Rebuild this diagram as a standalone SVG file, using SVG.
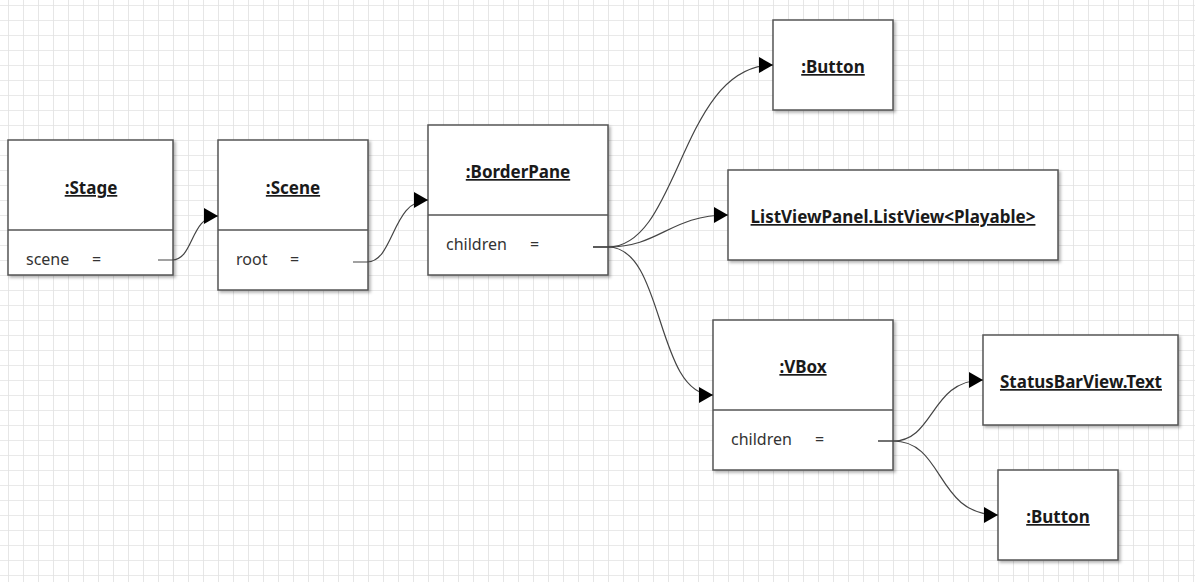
<svg xmlns="http://www.w3.org/2000/svg" width="1195" height="582" viewBox="0 0 1195 582">
<defs>
<pattern id="grid" x="8" y="5" width="15" height="15" patternUnits="userSpaceOnUse">
<path d="M0 0 H15 M0 0 V15" fill="none" stroke="#e2e2e2" stroke-width="1.7"/>
</pattern>
<filter id="sh" x="-10%" y="-10%" width="130%" height="130%">
<feDropShadow dx="2" dy="2" stdDeviation="1.5" flood-color="#000" flood-opacity="0.3"/>
</filter>
<marker id="arr" markerUnits="userSpaceOnUse" markerWidth="15" markerHeight="18" refX="14" refY="9" orient="auto">
<path d="M0 1 L14 9 L0 17 Z" fill="#000"/>
</marker>
</defs>
<style>
.box{fill:#fff;stroke:#555;stroke-width:1.5;filter:url(#sh)}
.div{stroke:#555;stroke-width:1.5}
.t{font-family:"Noto Sans","Open Sans","Liberation Sans",sans-serif;font-size:17px;font-weight:bold;fill:#1a1a1a;text-anchor:middle;text-decoration:underline}
.a{font-family:"Noto Sans","Open Sans","Liberation Sans",sans-serif;font-size:16px;fill:#333}
.c{fill:none;stroke:#444;stroke-width:1.2;marker-end:url(#arr)}
</style>
<rect width="1195" height="582" fill="#fff"/>
<rect width="1195" height="582" fill="url(#grid)"/>
<g id="stage">
<rect class="box" x="8" y="140" width="165" height="135"/>
<line class="div" x1="8" y1="230" x2="173" y2="230"/>
<text class="t" x="91" y="194">:Stage</text>
<text class="a" x="26" y="265">scene</text>
<text class="a" x="92" y="265">=</text>
</g>
<g id="scene">
<rect class="box" x="218" y="140" width="150" height="150"/>
<line class="div" x1="218" y1="230" x2="368" y2="230"/>
<text class="t" x="293" y="194">:Scene</text>
<text class="a" x="236" y="265">root</text>
<text class="a" x="290" y="265">=</text>
</g>
<g id="borderpane">
<rect class="box" x="428" y="125" width="180" height="150"/>
<line class="div" x1="428" y1="215" x2="608" y2="215"/>
<text class="t" x="518" y="178">:BorderPane</text>
<text class="a" x="446" y="250">children</text>
<text class="a" x="530" y="250">=</text>
</g>
<g id="button1">
<rect class="box" x="773" y="20" width="120" height="90"/>
<text class="t" x="833" y="73">:Button</text>
</g>
<g id="listview">
<rect class="box" x="728" y="170" width="330" height="90"/>
<text class="t" x="893" y="223">ListViewPanel.ListView&lt;Playable&gt;</text>
</g>
<g id="vbox">
<rect class="box" x="713" y="320" width="180" height="150"/>
<line class="div" x1="713" y1="410" x2="893" y2="410"/>
<text class="t" x="803" y="373">:VBox</text>
<text class="a" x="731" y="445">children</text>
<text class="a" x="815" y="445">=</text>
</g>
<g id="statusbar">
<rect class="box" x="983" y="335" width="195" height="90"/>
<text class="t" x="1081" y="388">StatusBarView.Text</text>
</g>
<g id="button2">
<rect class="box" x="998" y="470" width="120" height="90"/>
<text class="t" x="1058" y="523">:Button</text>
</g>
<g id="connectors">
<path class="c" d="M158 260 L172 260 C194 260 190 216 218 216"/>
<path class="c" d="M353 262 L367 262 C394 262 392 200 428 200"/>
<path class="c" d="M593 247 L608 247 C680 247 680 65 773 65"/>
<path class="c" d="M593 247 L608 247 C660 247 670 215 728 215"/>
<path class="c" d="M593 247 L608 247 C665 247 655 395 713 395"/>
<path class="c" d="M878 441 L893 441 C935 441 930 380 983 380"/>
<path class="c" d="M878 441 L893 441 C945 441 935 515 998 515"/>
</g>
</svg>
